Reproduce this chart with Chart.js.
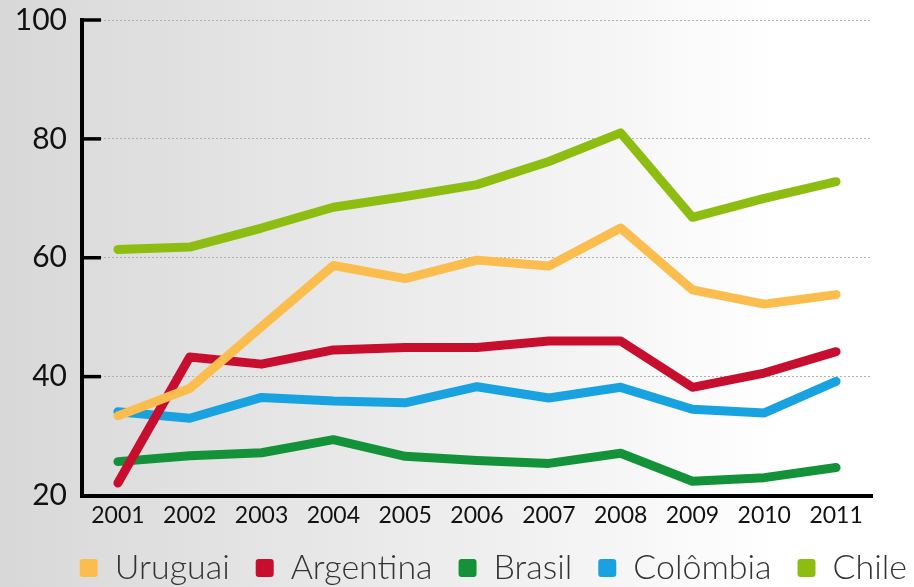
<!DOCTYPE html>
<html>
<head>
<meta charset="utf-8">
<script src="https://cdn.jsdelivr.net/npm/chart.js@4"></script>
<style>
  html, body { margin: 0; padding: 0; }
  body {
    width: 914px; height: 587px; overflow: hidden;
    background: linear-gradient(to right, #d8d8d8 0%, #e5e5e5 30%, #f2f2f2 60%, #ffffff 85%);
  }
  #wrap { position: relative; width: 914px; height: 587px; }
</style>
</head>
<body>
<div id="wrap"><canvas id="c" width="914" height="587"></canvas></div>
<script>
const years = ['2001','2002','2003','2004','2005','2006','2007','2008','2009','2010','2011'];
const yTicks = [20, 40, 60, 80, 100];

const uruguai   = [33.4, 38.0, 48.4, 58.7, 56.5, 59.6, 58.6, 65.0, 54.6, 52.2, 53.8];
const argentina = [22.1, 43.3, 42.1, 44.5, 44.9, 44.9, 46.0, 46.0, 38.2, 40.6, 44.2];
const brasil    = [25.7, 26.7, 27.2, 29.4, 26.6, 25.9, 25.4, 27.1, 22.4, 23.0, 24.7];
const colombia  = [34.1, 33.0, 36.5, 35.9, 35.6, 38.3, 36.4, 38.2, 34.5, 33.9, 39.2];
const chile     = [61.4, 61.8, 65.0, 68.5, 70.3, 72.3, 76.2, 81.0, 66.8, 70.0, 72.8];

const seriesNames = ['Uruguai', 'Argentina', 'Brasil', 'Colômbia', 'Chile'];
const seriesData = [uruguai, argentina, brasil, colombia, chile];
const seriesColors = ['#fbbe4e', '#c70e2f', '#13923a', '#18a2e0', '#8dbd10'];

const innerTicks = {
  id: 'innerTicks',
  beforeDatasetsDraw(chart) {
    const y = chart.scales.y;
    const ctx = chart.ctx;
    ctx.save();
    ctx.strokeStyle = '#000';
    ctx.lineWidth = 3.5;
    yTicks.forEach(v => {
      if (v === y.min) return;
      const py = y.getPixelForValue(v);
      ctx.beginPath();
      ctx.moveTo(y.right - 2, py);
      ctx.lineTo(y.right + 19, py);
      ctx.stroke();
    });
    ctx.restore();
  }
};

new Chart(document.getElementById('c'), {
  type: 'line',
  data: {
    labels: years,
    datasets: seriesNames.map((n, i) => ({
      label: n,
      data: seriesData[i],
      borderColor: seriesColors[i],
      backgroundColor: seriesColors[i],
      borderWidth: 9,
      pointRadius: 0,
      tension: 0,
      borderCapStyle: 'round',
      borderJoinStyle: 'round',
      fill: false
    }))
  },
  options: {
    responsive: false,
    animation: false,
    layout: { padding: { top: 20, right: -19, bottom: -8, left: 0 } },
    plugins: {
      tooltip: { enabled: false },
      legend: {
        position: 'bottom',
        align: 'end',
        labels: {
          boxWidth: 18,
          boxHeight: 18,
          padding: 26,
          color: '#333',
          font: { family: 'Lato', size: 34, weight: '300' },
          generateLabels(chart) {
            return chart.data.datasets.map((d, i) => ({
              text: d.label,
              fillStyle: d.borderColor,
              strokeStyle: d.borderColor,
              lineWidth: 0,
              borderRadius: 3,
              datasetIndex: i,
              fontColor: '#333'
            }));
          }
        }
      }
    },
    scales: {
      x: {
        offset: true,
        grid: { display: false, drawTicks: false },
        border: { display: true, color: '#000', width: 4 },
        ticks: { color: '#111', padding: 9, font: { family: 'Lato', size: 23, lineHeight: 1 }, maxRotation: 0, autoSkip: false },
        afterFit(s) { s.height = 29.5; }
      },
      y: {
        min: 20, max: 100,
        grid: {
          drawTicks: true,
          tickLength: 15,
          tickColor: 'rgba(0,0,0,0)',
          color: ctx => ctx.tick && ctx.tick.value === 20 ? 'rgba(0,0,0,0)' : '#b0b0b0',
          lineWidth: 1
        },
        border: { display: true, color: '#000', width: 4, dash: [2, 2] },
        ticks: {
          stepSize: 20, color: '#111', padding: 0,
          font: { family: 'Lato', size: 30 },
          callback: v => yTicks.includes(v) ? String(v) : null
        },
        afterFit(s) { s.width = 82; }
      },
      yr: {
        position: 'right',
        display: true,
        grid: { display: false, drawTicks: false },
        border: { display: false },
        ticks: { display: false },
        afterFit(s) { s.width = 61; }
      }
    }
  },
  plugins: [innerTicks]
});
</script>
</body>
</html>
